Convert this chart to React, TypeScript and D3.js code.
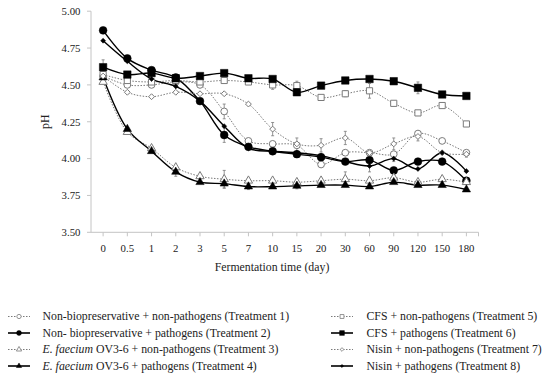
import { useEffect, useRef } from "react";
import * as d3 from "d3";

const DAYS = ["0", "0.5", "1", "2", "3", "5", "7", "10", "15", "20", "30", "60", "90", "120", "150", "180"];
const Y_TICKS = [3.5, 3.75, 4.0, 4.25, 4.5, 4.75, 5.0];

// pH per treatment
const T1 = [4.56, 4.50, 4.50, 4.52, 4.50, 4.32, 4.12, 4.10, 4.09, 3.96, 4.04, 4.04, 4.03, 4.17, 4.12, 4.04];
const T2 = [4.87, 4.68, 4.60, 4.55, 4.39, 4.16, 4.08, 4.05, 4.03, 4.01, 3.98, 3.99, 3.92, 3.98, 3.98, 3.85];
const T3 = [4.52, 4.18, 4.07, 3.94, 3.88, 3.86, 3.85, 3.85, 3.84, 3.85, 3.86, 3.85, 3.87, 3.84, 3.86, 3.84];
const T4 = [4.55, 4.20, 4.05, 3.91, 3.84, 3.83, 3.81, 3.81, 3.815, 3.82, 3.82, 3.81, 3.84, 3.82, 3.82, 3.79];
const T5 = [4.57, 4.53, 4.52, 4.53, 4.52, 4.53, 4.52, 4.50, 4.495, 4.415, 4.44, 4.46, 4.375, 4.31, 4.36, 4.235];
const T6 = [4.62, 4.57, 4.58, 4.545, 4.56, 4.58, 4.545, 4.54, 4.45, 4.495, 4.53, 4.54, 4.525, 4.48, 4.435, 4.425];
const T7 = [4.56, 4.45, 4.42, 4.45, 4.44, 4.44, 4.37, 4.20, 4.10, 4.09, 4.14, 4.04, 4.10, 4.15, 4.04, 4.03];
const T8 = [4.80, 4.66, 4.54, 4.49, 4.39, 4.22, 4.07, 4.05, 4.04, 4.02, 3.98, 3.95, 4.00, 3.93, 4.04, 3.915];

// standard deviations (only where a bar is visible)
const E1 = [0, 0, 0, 0, 0, 0.05, 0, 0, 0.05, 0, 0, 0, 0, 0, 0, 0];
const E2 = [0, 0, 0, 0, 0, 0.05, 0, 0, 0, 0, 0, 0, 0, 0, 0, 0];
const E3 = [0, 0, 0, 0, 0, 0.06, 0, 0, 0, 0, 0.05, 0, 0.02, 0, 0, 0];
const E4 = [0, 0, 0, 0.03, 0, 0.03, 0.02, 0, 0.02, 0, 0, 0, 0, 0, 0, 0];
const E5 = [0, 0, 0, 0.03, 0, 0, 0, 0.03, 0.03, 0, 0.02, 0.05, 0, 0, 0, 0];
const E6 = [0.05, 0, 0, 0, 0, 0, 0, 0, 0, 0, 0.02, 0, 0, 0.04, 0, 0];
const E7 = [0, 0, 0, 0, 0, 0, 0, 0.045, 0, 0.045, 0.045, 0, 0.04, 0.03, 0, 0.02];
const E8 = [0, 0, 0, 0, 0, 0, 0, 0, 0, 0, 0, 0.04, 0.02, 0, 0, 0];

type Shape = "circle" | "triangle" | "square" | "diamond";
interface Series { label: (string | [string, boolean])[]; values: number[]; err: number[]; shape: Shape; filled: boolean; }

const SERIES: Series[] = [
  { label: ["Non-biopreservative + non-pathogens (Treatment 1)"], values: T1, err: E1, shape: "circle", filled: false },
  { label: ["Non- biopreservative + pathogens (Treatment 2)"], values: T2, err: E2, shape: "circle", filled: true },
  { label: [["E. faecium", true], " OV3-6 + non-pathogens (Treatment 3)"], values: T3, err: E3, shape: "triangle", filled: false },
  { label: [["E. faecium", true], " OV3-6 + pathogens (Treatment 4)"], values: T4, err: E4, shape: "triangle", filled: true },
  { label: ["CFS + non-pathogens (Treatment 5)"], values: T5, err: E5, shape: "square", filled: false },
  { label: ["CFS + pathogens (Treatment 6)"], values: T6, err: E6, shape: "square", filled: true },
  { label: ["Nisin + non-pathogens (Treatment 7)"], values: T7, err: E7, shape: "diamond", filled: false },
  { label: ["Nisin + pathogens (Treatment 8)"], values: T8, err: E8, shape: "diamond", filled: true },
];

const FONT = "Liberation Serif";
const AXIS = "#c4c4c4";
const TXT = "#222";
const GREY = "#7a7a7a";

function symbolPath(shape: Shape, filled: boolean, k = 1) {
  const sizes: Record<Shape, number> = filled
    ? { circle: 48, triangle: 30, square: 56, diamond: 16 }
    : { circle: 36, triangle: 30, square: 38, diamond: 22 };
  const type = { circle: d3.symbolCircle, triangle: d3.symbolTriangle, square: d3.symbolSquare, diamond: d3.symbolDiamond2 }[shape];
  return d3.symbol().type(type).size(sizes[shape] * k)()!;
}

function drawMarker(g: d3.Selection<SVGGElement, unknown, null, undefined>, s: Series, x: number, y: number, k = 1) {
  g.append("path").attr("d", symbolPath(s.shape, s.filled, k))
    .attr("transform", `translate(${x},${y})`)
    .attr("fill", s.filled ? "#000" : "#fff")
    .attr("stroke", s.filled ? "#000" : GREY)
    .attr("stroke-width", s.filled ? 0.5 : k < 1 ? 0.8 : 1);
}

export default function App() {
  const svgRef = useRef<SVGSVGElement>(null);

  useEffect(() => {
    if (!svgRef.current) return;
    const svg = d3.select(svgRef.current);
    svg.selectAll("*").remove();

    const x = d3.scaleBand().domain(DAYS).range([91, 478.5]);
    const y = d3.scaleLinear().domain([3.5, 5.0]).range([232.3, 11.2]);
    const cx = (d: string) => x(d)! + x.bandwidth() / 2;

    // axes
    const g = svg.append("g");
    g.append("line").attr("x1", 91).attr("x2", 91).attr("y1", y(5)).attr("y2", y(3.5)).attr("stroke", AXIS);
    g.append("line").attr("x1", 91).attr("x2", 478.5).attr("y1", y(3.5)).attr("y2", y(3.5)).attr("stroke", AXIS);
    Y_TICKS.forEach(t => {
      g.append("line").attr("x1", 87).attr("x2", 91).attr("y1", y(t)).attr("y2", y(t)).attr("stroke", AXIS);
      g.append("text").attr("x", 80.5).attr("y", y(t) + 3.8).attr("text-anchor", "end")
        .attr("font-family", FONT).attr("font-size", "10.8px").attr("fill", TXT).text(t.toFixed(2));
    });
    DAYS.forEach(d => {
      g.append("line").attr("x1", cx(d)).attr("x2", cx(d)).attr("y1", y(3.5)).attr("y2", y(3.5) + 4).attr("stroke", AXIS);
      g.append("text").attr("x", cx(d)).attr("y", 252).attr("text-anchor", "middle")
        .attr("font-family", FONT).attr("font-size", "10.8px").attr("fill", TXT).text(d);
    });
    g.append("line").attr("x1", 478.5).attr("x2", 478.5).attr("y1", y(3.5)).attr("y2", y(3.5) + 4).attr("stroke", AXIS);

    g.append("text").attr("x", 272).attr("y", 270.5).attr("text-anchor", "middle")
      .attr("font-family", FONT).attr("font-size", "11.8px").attr("fill", TXT).text("Fermentation time (day)");
    g.append("text").attr("transform", `translate(49,${(y(5) + y(3.5)) / 2}) rotate(-90)`).attr("text-anchor", "middle")
      .attr("font-family", FONT).attr("font-size", "11.8px").attr("fill", TXT).text("pH");

    const line = d3.line<number>().x((_, i) => cx(DAYS[i])).y(v => y(v)).curve(d3.curveCatmullRom.alpha(0.5));

    // lines
    SERIES.forEach(s => {
      g.append("path").attr("d", line(s.values)!).attr("fill", "none")
        .attr("stroke", s.filled ? "#000" : GREY)
        .attr("stroke-width", s.filled ? 1.4 : 1)
        .attr("stroke-dasharray", s.filled ? null : "1.5,1.5");
    });

    // error bars
    SERIES.forEach(s => {
      s.values.forEach((v, i) => {
        const e = s.err[i];
        if (!e) return;
        const px = cx(DAYS[i]);
        g.append("line").attr("x1", px).attr("x2", px).attr("y1", y(v - e)).attr("y2", y(v + e)).attr("stroke", GREY).attr("stroke-width", 0.8);
        [v - e, v + e].forEach(w => g.append("line").attr("x1", px - 1.5).attr("x2", px + 1.5).attr("y1", y(w)).attr("y2", y(w)).attr("stroke", GREY).attr("stroke-width", 0.8));
      });
    });

    // markers
    SERIES.forEach(s => {
      s.values.forEach((v, i) => drawMarker(g, s, cx(DAYS[i]), y(v)));
    });

    // legend
    const lg = svg.append("g");
    SERIES.forEach((s, i) => {
      const col = Math.floor(i / 4), row = i % 4;
      const x0 = col === 0 ? 8 : 331;
      const ty = 316.5 + row * 16.5;
      lg.append("line").attr("x1", x0).attr("x2", x0 + 22).attr("y1", ty).attr("y2", ty)
        .attr("stroke", s.filled ? "#000" : GREY).attr("stroke-width", s.filled ? 1.6 : 1)
        .attr("stroke-dasharray", s.filled ? null : "1.5,1.5");
      drawMarker(lg, s, x0 + 11, ty, 0.4);
      const t = lg.append("text").attr("x", col === 0 ? 42.5 : 366.5).attr("y", ty + 3.8)
        .attr("font-family", FONT).attr("font-size", "11.8px").attr("fill", TXT);
      s.label.forEach(part => {
        if (typeof part === "string") t.append("tspan").text(part);
        else t.append("tspan").attr("font-style", "italic").text(part[0]);
      });
    });
  }, []);

  return <svg ref={svgRef} width={550} height={386} style={{ position: "absolute", left: 0, top: 0, background: "#fff" }} />;
}
